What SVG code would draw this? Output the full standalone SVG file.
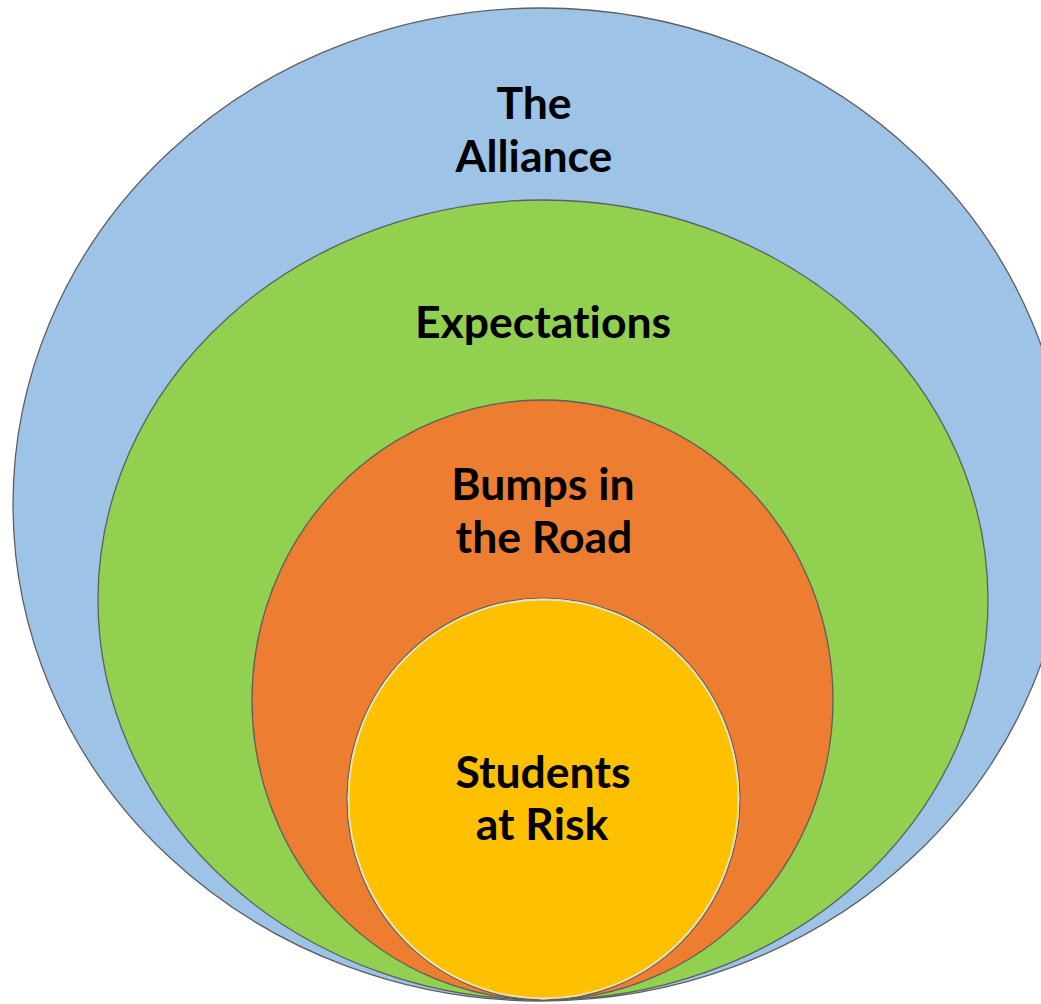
<svg xmlns="http://www.w3.org/2000/svg" width="1041" height="1004" viewBox="0 0 1041 1004">
<style>
.ring{stroke:#5f5f5f;stroke-width:1.3}
.lbl{font-family:Lato,"Open Sans","Liberation Sans",sans-serif;font-weight:bold;font-size:44.5px;fill:#000;text-anchor:middle;font-variant-ligatures:none;font-feature-settings:"liga" 0}
</style>
<rect width="1041" height="1004" fill="#fff"/>
<g id="alliance">
<ellipse class="ring" cx="541" cy="504.5" rx="528" ry="496.5" fill="#9DC3E6"/>
<text class="lbl" x="534" y="119">The</text>
<text class="lbl" x="534" y="172">Alliance</text>
</g>
<g id="expectations">
<ellipse class="ring" cx="543" cy="600" rx="445" ry="400" fill="#92D050"/>
<text class="lbl" x="543" y="338">Expectations</text>
</g>
<g id="bumps">
<ellipse class="ring" cx="542.5" cy="700" rx="290.5" ry="300" fill="#ED7D31"/>
<text class="lbl" x="543" y="500">Bumps in</text>
<text class="lbl" x="544" y="553">the Road</text>
</g>
<g id="students">
<ellipse cx="543.5" cy="799" rx="196.5" ry="201" fill="#FFC000" stroke="#5f5f5f" stroke-width="1.2"/>
<ellipse cx="543.5" cy="799" rx="195" ry="199.5" fill="none" stroke="#e6e2c4" stroke-width="1.8"/>
<text class="lbl" x="543" y="788">Students</text>
<text class="lbl" x="542" y="840">at Risk</text>
</g>
<g id="connectors"></g>
</svg>
